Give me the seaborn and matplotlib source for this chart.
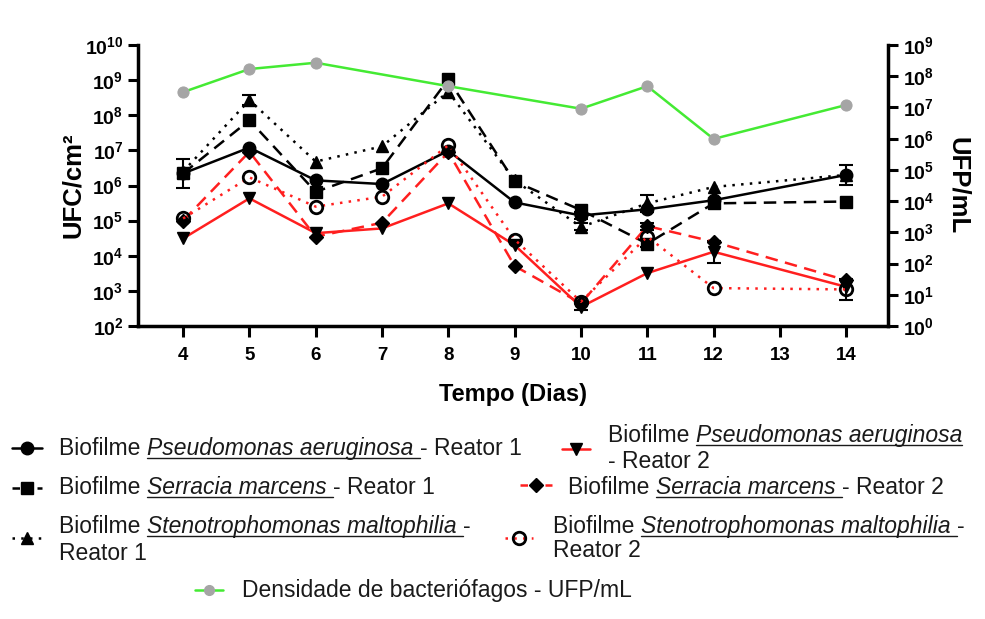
import numpy as np
import matplotlib
matplotlib.use('Agg')
import matplotlib.pyplot as plt
from matplotlib.lines import Line2D
from matplotlib.ticker import FixedLocator, FuncFormatter, NullLocator
import seaborn as sns

# dias de coleta
dias = [4, 5, 6, 7, 8, 9, 10, 11, 12, 14]
dias_fago = [4, 5, 6, 8, 10, 11, 12, 14]

# UFC/cm2 - reator 1
pa_r1 = [2.2e6, 1.2e7, 1.4e6, 1.1e6, 9.8e6, 3.3e5, 1.4e5, 2.1e5, 3.8e5, 2.0e6]
sm_r1 = [2.2e6, 7.2e7, 6.6e5, 3.1e6, 1.05e9, 1.3e6, 2.0e5, 2.2e4, 3.1e5, 3.5e5]
st_r1 = [2.5e6, 2.7e8, 4.8e6, 1.3e7, 4.7e8, 1.4e6, 6.6e4, 3.1e5, 9.1e5, 2.0e6]
# UFC/cm2 - reator 2
pa_r2 = [3.1e4, 4.3e5, 4.4e4, 6.0e4, 3.1e5, 2.0e4, 3.5e2, 3.2e3, 1.3e4, 1.3e3]
sm_r2 = [1.0e5, 9.1e6, 3.5e4, 8.7e4, 8.9e6, 5.1e3, 4.4e2, 7.0e4, 2.5e4, 2.0e3]
st_r2 = [1.15e5, 1.7e6, 2.5e5, 4.8e5, 1.4e7, 2.9e4, 4.9e2, 3.5e4, 1.2e3, 1.1e3]
# UFP/mL
fagos = [3.1e7, 1.7e8, 2.7e8, 4.8e7, 9.1e6, 4.8e7, 9.8e5, 1.2e7]

# erro (em decadas)
err_pa_r1 = [0, 0, 0, 0, 0, 0, 0.1, 0, 0, 0.28]
err_sm_r1 = [0.4, 0, 0, 0, 0, 0, 0.1, 0.1, 0, 0]
err_st_r1 = [0, 0.15, 0, 0, 0, 0, 0.1, 0.25, 0, 0]
err_pa_r2 = [0, 0, 0, 0, 0, 0, 0.1, 0, 0.32, 0]
err_sm_r2 = [0, 0, 0, 0, 0, 0, 0, 0.1, 0, 0]
err_st_r2 = [0, 0, 0, 0, 0, 0, 0, 0, 0, 0.3]

RED = '#ff1f1f'
GREEN = '#44ea33'
GRAY = '#a5a5a5'

sns.set_style('ticks')
plt.rcParams['font.family'] = ['Liberation Sans', 'DejaVu Sans']
plt.rcParams['mathtext.fontset'] = 'custom'
plt.rcParams['mathtext.rm'] = 'Liberation Sans:bold'
plt.rcParams['mathtext.bf'] = 'Liberation Sans:bold'
plt.rcParams['mathtext.it'] = 'Liberation Sans:bold:italic'
for k in ('text.color', 'axes.labelcolor', 'xtick.color', 'ytick.color', 'axes.edgecolor'):
    plt.rcParams[k] = 'black'

W, H = 985, 619
fig = plt.figure(figsize=(W / 100, H / 100), dpi=100)
ax = fig.add_axes([138 / W, 1 - 326 / H, (888 - 138) / W, (326 - 45) / H])
ax2 = ax.twinx()

series = [
    (pa_r1, err_pa_r1, 'black', '-', 'o', 'black', 9),
    (sm_r1, err_sm_r1, 'black', (0, (5, 3)), 's', 'black', 9),
    (st_r1, err_st_r1, 'black', (0, (1, 2.5)), '^', 'black', 9),
    (pa_r2, err_pa_r2, RED, '-', 'v', 'black', 9),
    (sm_r2, err_sm_r2, RED, (0, (5, 3)), 'D', 'black', 7),
    (st_r2, err_st_r2, RED, (0, (1, 2.5)), 'o', 'none', 9),
]
for vals, err, col, ls, mk, fc, ms in series:
    sns.lineplot(x=dias, y=vals, ax=ax, color=col, linestyle=ls, lw=1.8,
                 marker=mk, markersize=ms, markerfacecolor=fc,
                 markeredgecolor='black', markeredgewidth=2 if fc == 'none' else 1)
    v = np.array(vals)
    e = np.array(err)
    m = e > 0
    ax.errorbar(np.array(dias)[m], v[m],
                yerr=[v[m] - v[m] * 10 ** (-e[m]), v[m] * 10 ** e[m] - v[m]],
                fmt='none', ecolor='black', elinewidth=1.5, capsize=5, capthick=1.5)

sns.lineplot(x=dias_fago, y=fagos, ax=ax2, color=GREEN, lw=1.8, marker='o',
             markersize=8, markerfacecolor=GRAY, markeredgecolor=GRAY)

ax.set_yscale('log')
ax2.set_yscale('log')
ax.set_ylim(1e2, 1e10)
ax2.set_ylim(1e0, 1e9)
ax.set_xlim(3.32, 14.63)
ax.set_xticks(range(4, 15))
ax.set_xticklabels([str(d) for d in range(4, 15)], fontweight='bold', fontsize=13.5)

fmt = FuncFormatter(lambda v, p: r'$\mathbf{10^{%d}}$' % round(np.log10(v)))
ax.yaxis.set_major_locator(FixedLocator([10.0 ** k for k in range(2, 11)]))
ax2.yaxis.set_major_locator(FixedLocator([10.0 ** k for k in range(0, 10)]))
for a in (ax, ax2):
    a.yaxis.set_major_formatter(fmt)
    a.yaxis.set_minor_locator(NullLocator())
    a.tick_params(axis='y', labelsize=14, width=2.2, length=7)
ax.tick_params(axis='x', width=2.2, length=8, pad=7)

for s in ('top', 'right'):
    ax.spines[s].set_visible(False)
for s in ('top', 'left', 'bottom'):
    ax2.spines[s].set_visible(False)
ax.spines['left'].set_linewidth(2.5)
ax.spines['bottom'].set_linewidth(2.5)
ax2.spines['right'].set_linewidth(2.5)

ax.set_xlabel('Tempo (Dias)', fontsize=17, fontweight='bold', labelpad=14)
ax.set_ylabel('UFC/cm²', fontsize=18.5, fontweight='bold', labelpad=0)
ax2.set_ylabel('UFP/mL', fontsize=18.5, fontweight='bold', rotation=-90, labelpad=26)

# legenda montada a mao (nomes em italico sublinhado)
rend = fig.canvas.get_renderer()
FS = 16.5


def handle(x0, x1, y, col, ls, mk, fc, ms):
    fig.add_artist(Line2D([x0 / W, x1 / W], [1 - y / H, 1 - y / H], transform=fig.transFigure,
                          color=col, linestyle=ls, lw=1.8))
    fig.add_artist(Line2D([(x0 + x1) / 2 / W], [1 - y / H], transform=fig.transFigure,
                          marker=mk, markersize=ms, markerfacecolor=fc, markeredgecolor='black',
                          markeredgewidth=2 if fc == 'none' else 1, linestyle='none'))


def texto(x, y, parts):
    for s, ital in parts:
        t = fig.text(x / W, 1 - y / H, s, fontsize=FS, va='baseline', ha='left',
                     style='italic' if ital else 'normal', color='#1a1a1a')
        bb = t.get_window_extent(rend)
        if ital:
            fig.add_artist(Line2D([bb.x0 / W, bb.x1 / W], [1 - (y + 3) / H] * 2,
                                  transform=fig.transFigure, color='#1a1a1a', lw=1))
        x += bb.width


handle(12, 42, 448, 'black', '-', 'o', 'black', 9)
texto(59, 455, [('Biofilme ', False), ('Pseudomonas aeruginosa ', True), ('- Reator 1', False)])
handle(12, 42, 488, 'black', (0, (3, 2)), 's', 'black', 9)
texto(59, 494, [('Biofilme ', False), ('Serracia marcens ', True), ('- Reator 1', False)])
handle(12, 42, 538, 'black', (0, (1, 2.5)), '^', 'black', 9)
texto(59, 533, [('Biofilme ', False), ('Stenotrophomonas maltophilia ', True), ('-', False)])
texto(59, 560, [('Reator 1', False)])

handle(562, 590, 449, RED, '-', 'v', 'black', 9)
texto(608, 442, [('Biofilme ', False), ('Pseudomonas aeruginosa', True)])
texto(608, 468, [('- Reator 2', False)])
handle(520, 552, 485, RED, (0, (3, 2)), 'D', 'black', 7)
texto(568, 494, [('Biofilme ', False), ('Serracia marcens ', True), ('- Reator 2', False)])
handle(505, 533, 538, RED, (0, (1, 2.5)), 'o', 'none', 9)
texto(553, 533, [('Biofilme ', False), ('Stenotrophomonas maltophilia ', True), ('-', False)])
texto(553, 557, [('Reator 2', False)])

fig.add_artist(Line2D([195 / W, 223 / W], [1 - 590 / H] * 2, transform=fig.transFigure,
                      color=GREEN, lw=1.8))
fig.add_artist(Line2D([209 / W], [1 - 590 / H], transform=fig.transFigure, marker='o',
                      markersize=7, markerfacecolor=GRAY, markeredgecolor=GRAY, linestyle='none'))
texto(242, 597, [('Densidade de bacteriófagos - UFP/mL', False)])

fig.savefig('out.png', dpi=100)
